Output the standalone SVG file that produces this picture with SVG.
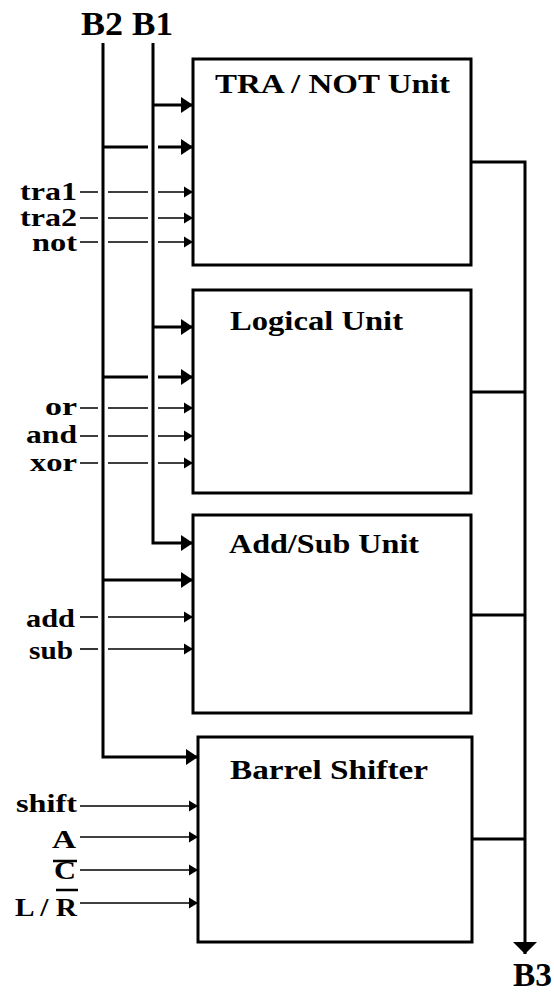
<svg xmlns="http://www.w3.org/2000/svg" width="554" height="993" viewBox="0 0 554 993">
<style>
text{font-family:"Liberation Serif","Times New Roman",serif;font-weight:bold;fill:#000}
.lbl{font-size:25px}
.title{font-size:28px}
.bus{font-size:34px}
.box{fill:#fff;stroke:#000;stroke-width:3}
.thick{fill:none;stroke:#000;stroke-width:3}
.thin{fill:none;stroke:#000;stroke-width:1.6}
</style>
<defs>
<marker id="bigArrow" markerUnits="userSpaceOnUse" markerWidth="14" markerHeight="18" refX="13" refY="9" orient="auto">
<path d="M1,1 L13,9 L1,17 Z" fill="#000"/>
</marker>
<marker id="smallArrow" markerUnits="userSpaceOnUse" markerWidth="11" markerHeight="13" refX="10" refY="6.5" orient="auto">
<path d="M1,1 L10,6.5 L1,12 Z" fill="#000"/>
</marker>
<marker id="outArrow" markerUnits="userSpaceOnUse" markerWidth="14" markerHeight="26" refX="13" refY="13" orient="auto">
<path d="M1,1 L13,13 L1,25 Z" fill="#000"/>
</marker>
</defs>

<g id="bus-labels">
<text class="bus" x="81" y="35" textLength="42" lengthAdjust="spacingAndGlyphs">B2</text>
<text class="bus" x="132" y="35" textLength="41" lengthAdjust="spacingAndGlyphs">B1</text>
<text class="bus" x="513" y="986" textLength="39" lengthAdjust="spacingAndGlyphs">B3</text>
</g>

<g id="tra-not-unit">
<rect class="box" x="193" y="59" width="278" height="206"/>
<text class="title" x="215" y="93" textLength="235" lengthAdjust="spacingAndGlyphs">TRA / NOT Unit</text>
</g>
<g id="logical-unit">
<rect class="box" x="193" y="290" width="278" height="203"/>
<text class="title" x="230" y="330" textLength="173" lengthAdjust="spacingAndGlyphs">Logical Unit</text>
</g>
<g id="add-sub-unit">
<rect class="box" x="193" y="515" width="278" height="198"/>
<text class="title" x="229" y="553" textLength="190" lengthAdjust="spacingAndGlyphs">Add/Sub Unit</text>
</g>
<g id="barrel-shifter">
<rect class="box" x="198" y="737" width="274" height="205"/>
<text class="title" x="230" y="779" textLength="198" lengthAdjust="spacingAndGlyphs">Barrel Shifter</text>
</g>

<g id="control-labels">
<text class="lbl" x="77" y="200" text-anchor="end" textLength="57" lengthAdjust="spacingAndGlyphs">tra1</text>
<text class="lbl" x="77" y="226" text-anchor="end" textLength="57" lengthAdjust="spacingAndGlyphs">tra2</text>
<text class="lbl" x="77" y="251" text-anchor="end" textLength="45" lengthAdjust="spacingAndGlyphs">not</text>
<text class="lbl" x="77" y="415" text-anchor="end" textLength="32" lengthAdjust="spacingAndGlyphs">or</text>
<text class="lbl" x="77" y="443" text-anchor="end" textLength="51" lengthAdjust="spacingAndGlyphs">and</text>
<text class="lbl" x="77" y="471" text-anchor="end" textLength="47" lengthAdjust="spacingAndGlyphs">xor</text>
<text class="lbl" x="75" y="627" text-anchor="end" textLength="49" lengthAdjust="spacingAndGlyphs">add</text>
<text class="lbl" x="73" y="659" text-anchor="end" textLength="44" lengthAdjust="spacingAndGlyphs">sub</text>
<text class="lbl" x="77" y="812" text-anchor="end" textLength="61" lengthAdjust="spacingAndGlyphs">shift</text>
<text class="lbl" x="76" y="848" text-anchor="end" textLength="24" lengthAdjust="spacingAndGlyphs">A</text>
<text class="lbl" x="76" y="879" text-anchor="end" textLength="22" lengthAdjust="spacingAndGlyphs">C</text>
<line x1="53" y1="861" x2="77" y2="861" stroke="#000" stroke-width="2.5"/>
<text class="lbl" x="77" y="916" text-anchor="end" textLength="62" lengthAdjust="spacingAndGlyphs">L / R</text>
<line x1="56" y1="890" x2="78" y2="890" stroke="#000" stroke-width="2.5"/>
</g>

<g id="connectors">
<path class="thick" d="M103,43 V757 H198" marker-end="url(#bigArrow)"/>
<path class="thick" d="M153,43 V543 H193" marker-end="url(#bigArrow)"/>
<path class="thick" d="M153,105 H193" marker-end="url(#bigArrow)"/>
<path class="thick" d="M103,147 H148"/>
<path class="thick" d="M158,147 H193" marker-end="url(#bigArrow)"/>
<path class="thick" d="M153,327 H193" marker-end="url(#bigArrow)"/>
<path class="thick" d="M103,377 H148"/>
<path class="thick" d="M158,377 H193" marker-end="url(#bigArrow)"/>
<path class="thick" d="M103,580 H193" marker-end="url(#bigArrow)"/>
<path class="thin" d="M80,192 H98 M108,192 H148"/>
<path class="thin" d="M158,192 H193" marker-end="url(#smallArrow)"/>
<path class="thin" d="M80,218 H98 M108,218 H148"/>
<path class="thin" d="M158,218 H193" marker-end="url(#smallArrow)"/>
<path class="thin" d="M80,242 H98 M108,242 H148"/>
<path class="thin" d="M158,242 H193" marker-end="url(#smallArrow)"/>
<path class="thin" d="M80,408 H98 M108,408 H148"/>
<path class="thin" d="M158,408 H193" marker-end="url(#smallArrow)"/>
<path class="thin" d="M80,436 H98 M108,436 H148"/>
<path class="thin" d="M158,436 H193" marker-end="url(#smallArrow)"/>
<path class="thin" d="M80,463 H98 M108,463 H148"/>
<path class="thin" d="M158,463 H193" marker-end="url(#smallArrow)"/>
<path class="thin" d="M80,617 H98"/>
<path class="thin" d="M108,617 H193" marker-end="url(#smallArrow)"/>
<path class="thin" d="M80,649 H98"/>
<path class="thin" d="M108,649 H193" marker-end="url(#smallArrow)"/>
<path class="thin" d="M80,806 H198" marker-end="url(#smallArrow)"/>
<path class="thin" d="M80,837 H198" marker-end="url(#smallArrow)"/>
<path class="thin" d="M80,870 H198" marker-end="url(#smallArrow)"/>
<path class="thin" d="M80,903 H198" marker-end="url(#smallArrow)"/>
<path class="thick" d="M471,392 H525"/>
<path class="thick" d="M471,615 H525"/>
<path class="thick" d="M472,839 H525"/>
<path class="thick" d="M471,162 H525 V954" marker-end="url(#outArrow)"/>
</g>
</svg>
